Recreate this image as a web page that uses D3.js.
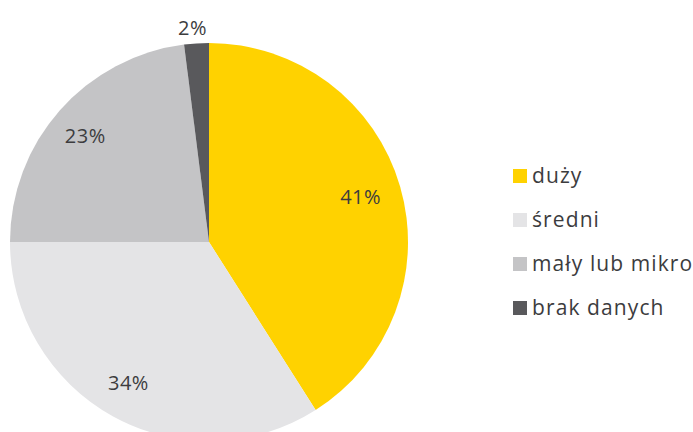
<html lang="pl">
<head>
  <meta charset="UTF-8"/>
  <title>Pie chart</title>
  <script src="https://d3js.org/d3.v7.min.js"></script>
  <style>
body {
  margin: 0;
  background: #fff;
  font-family: 'Open Sans', sans-serif;
}

svg {
  display: block;
}

text {
  fill: #3c3c3e;
}

text.value {
  font-size: 20px;
  letter-spacing: 0.5px;
}

text.legend {
  font-size: 21px;
  letter-spacing: 1.1px;
}
  </style>
</head>
<body>
  <svg width="693" height="432"></svg>
  <script>

const categories = ['duży', 'średni', 'mały lub mikro', 'brak danych'];
const values = [41, 34, 23, 2];
const labels = ['41%', '34%', '23%', '2%'];
const colors = ['#ffd200', '#e4e4e6', '#c4c4c6', '#59595c'];

const svg = d3.select('svg');

const cx = 209;
const cy = 242;
const radius = 199;

const pie = d3.pie()
  .sort(null)
  .value((d) => d.value);

const arc = d3.arc()
  .innerRadius(0)
  .outerRadius(radius);

const labelArc = d3.arc()
  .innerRadius(161)
  .outerRadius(161);

const outerArc = d3.arc()
  .innerRadius(214)
  .outerRadius(214);

const data = categories.map((c, i) => ({ name: c, value: values[i], label: labels[i], color: colors[i] }));

const chart = svg.append('g')
  .attr('transform', `translate(${cx}, ${cy})`);

const slices = chart.selectAll()
  .data(pie(data))
  .enter()
  .append('g');

slices.append('path')
  .attr('d', arc)
  .attr('fill', (d) => d.data.color);

slices.append('text')
  .attr('class', 'value')
  .attr('transform', (d) => `translate(${(d.data.value < 5 ? outerArc : labelArc).centroid(d)})`)
  .attr('text-anchor', 'middle')
  .attr('dx', -3)
  .attr('dy', '0.35em')
  .text((d) => d.data.label);

// legend
const legendY = d3.scalePoint()
  .domain(categories)
  .range([176, 308]);

const legend = svg.append('g')
  .selectAll()
  .data(data)
  .enter()
  .append('g')
  .attr('transform', (d) => `translate(513, ${legendY(d.name)})`);

legend.append('rect')
  .attr('x', 0)
  .attr('y', -7)
  .attr('width', 14)
  .attr('height', 14)
  .attr('fill', (d) => d.color);

legend.append('text')
  .attr('class', 'legend')
  .attr('x', 19)
  .attr('dy', '0.35em')
  .text((d) => d.name);

  </script>
</body>
</html>
